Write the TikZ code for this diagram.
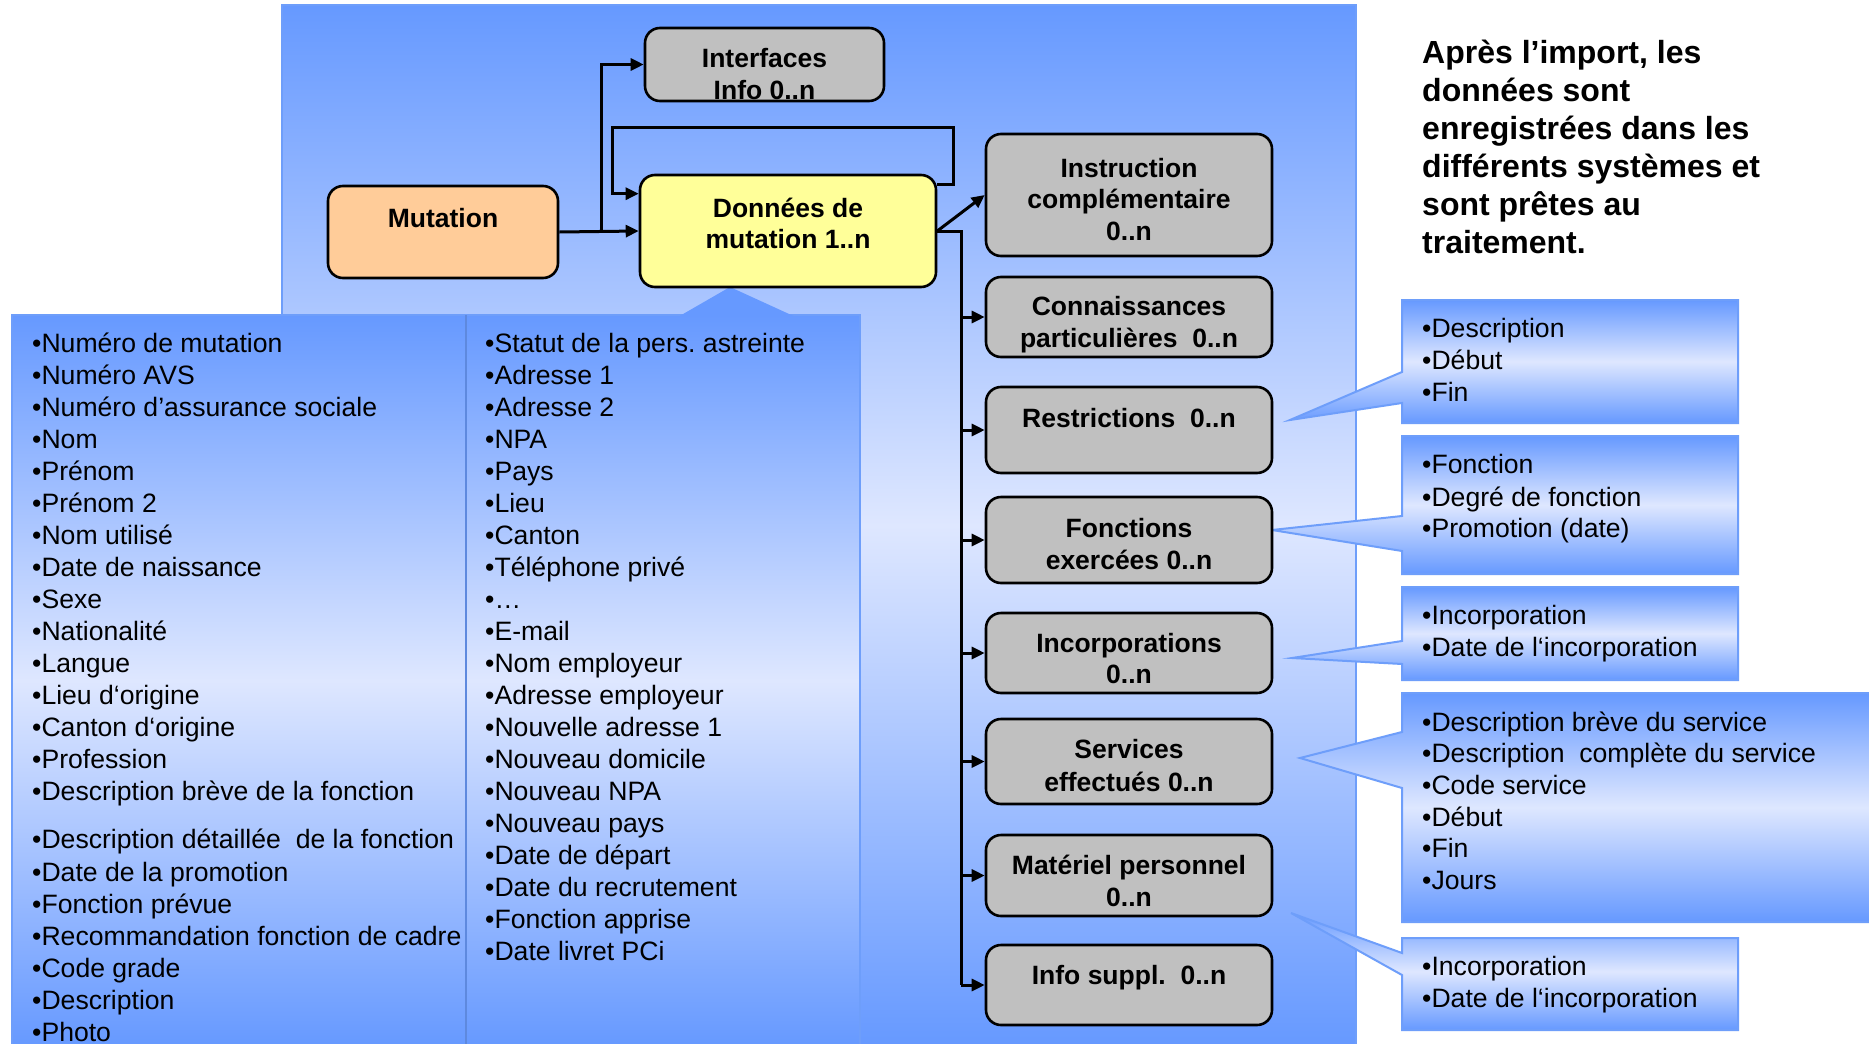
\documentclass[tikz,border=0pt]{standalone}
\usepackage{fontspec}
\setmainfont{Liberation Sans}
\usetikzlibrary{arrows.meta}
\definecolor{pblue}{RGB}{102,153,255}
\definecolor{plight}{RGB}{222,231,255}
\definecolor{pedge}{RGB}{110,158,250}
\definecolor{boxgray}{RGB}{192,192,192}
\definecolor{boxorange}{RGB}{255,204,153}
\definecolor{boxyellow}{RGB}{255,255,153}
\frenchspacing
\begin{document}
\begin{tikzpicture}[x=1pt,y=-1pt,
  box/.style={draw=black, line width=2.6pt, rounded corners=15pt, inner sep=0pt},
  graybox/.style={box, fill=boxgray, minimum width=286pt},
  conn/.style={draw=black, line width=3pt},
  arr/.style={conn, -{Triangle[length=13pt,width=12pt]}},
  bt/.style={font=\fontsize{26.5}{32}\selectfont\bfseries, anchor=base, inner sep=0pt},
  lt/.style={font=\fontsize{26.6}{32}\selectfont, anchor=base west, inner sep=0pt},
  rt/.style={font=\fontsize{32}{38}\selectfont\bfseries, anchor=base west, inner sep=0pt},
  grad/.style={top color=pblue, bottom color=pblue, middle color=plight},
  callout/.style={grad, draw=pedge, line width=2pt}
]
\useasboundingbox (0,0) rectangle (1869,1044);
\fill[white] (0,0) rectangle (1869,1044);
\begin{scope}
\clip (0,0) rectangle (1869,1044);
% background panel
\shade[grad] (282,5) rectangle (1356,1046);
\draw[pedge, line width=2pt] (282,1046) -- (282,5) -- (1356,5) -- (1356,1046);
% list box
\shade[grad] (12,315) rectangle (860,1046);
\draw[pedge, line width=1.5pt] (12,1046) -- (12,315) -- (860,315) -- (860,1046);
\fill[pblue] (680,315.8) -- (730,287) -- (793,315.8) -- cycle;
\draw[pedge!80!black!60!pblue, line width=1.5pt] (466,315) -- (466,1046);
% callouts
\shade[callout] (1402,300) -- (1738,300) -- (1738,423) -- (1402,423) -- (1402,403) -- (1290,420) -- (1402,372) -- cycle;
\shade[callout] (1402,436) -- (1738,436) -- (1738,574) -- (1402,574) -- (1402,551) -- (1272,530) -- (1402,516) -- cycle;
\shade[callout] (1402,587) -- (1738,587) -- (1738,680) -- (1402,680) -- (1402,664) -- (1292,658) -- (1402,641) -- cycle;
\shade[callout] (1402,693) -- (1880,693) -- (1880,922) -- (1402,922) -- (1402,788) -- (1300,758) -- (1402,732) -- cycle;
\shade[callout] (1402,938) -- (1738,938) -- (1738,1030) -- (1402,1030) -- (1402,975) -- (1291,913) -- (1402,953) -- cycle;
\end{scope}
% boxes
\node[box, fill=boxgray, minimum width=239pt, minimum height=73pt] (int) at (764.5,64.5) {};
\node[box, fill=boxorange, minimum width=230pt, minimum height=92pt] (mut) at (443,232) {};
\node[box, fill=boxyellow, minimum width=296pt, minimum height=112pt] (don) at (788,231) {};
\node[graybox, minimum height=122pt] (instr) at (1129,195) {};
\node[graybox, minimum height=80pt] (conn) at (1129,317) {};
\node[graybox, minimum height=86pt] (restr) at (1129,430) {};
\node[graybox, minimum height=86pt] (fonc) at (1129,540) {};
\node[graybox, minimum height=80pt] (incorp) at (1129,653) {};
\node[graybox, minimum height=85pt] (serv) at (1129,761.5) {};
\node[graybox, minimum height=81pt] (mat) at (1129,875.5) {};
\node[graybox, minimum height=80pt] (info) at (1129,985) {};
% connectors
\coordinate (j1) at (601,232);
\coordinate (lp1) at (953,127);
\coordinate (lp2) at (612,127);
\coordinate (bus) at (961,985);
\draw[arr] (mut.east) -- (don.west);
\draw[arr] (j1) |- (int.west);
\draw[arr] ([yshift=-11pt]don.north east) -| (lp1) -- (lp2) |- ([yshift=-20pt]don.north west);
\draw[arr] (don.east) -- (instr.west);
\draw[conn] (don.east) -| (bus);
\draw[arr] (bus) -- (info.west);
\foreach \b in {conn,restr,fonc,incorp,serv,mat}
  \draw[arr] (\b.west -| bus) -- (\b.west);
% box texts
\node[bt] (t-int1) at (764.5,67) {Interfaces};
\node[bt] (t-int2) at (764.5,99) {Info 0..n};
\node[bt] (t-mut) at (443,227) {Mutation};
\node[bt] (t-don1) at (788,217) {Données de};
\node[bt] (t-don2) at (788,248) {mutation 1..n};
\node[bt] (t-ins1) at (1129,177) {Instruction};
\node[bt] (t-ins2) at (1129,208) {complémentaire};
\node[bt] (t-ins3) at (1129,240) {0..n};
\node[bt] (t-con1) at (1129,315) {Connaissances};
\node[bt] (t-con2) at (1129,347) {particulières\ \ 0..n};
\node[bt] (t-res) at (1129,427) {Restrictions\ \ 0..n};
\node[bt] (t-fon1) at (1129,537) {Fonctions};
\node[bt] (t-fon2) at (1129,569) {exercées 0..n};
\node[bt] (t-inc1) at (1129,652) {Incorporations};
\node[bt] (t-inc2) at (1129,683) {0..n};
\node[bt] (t-ser1) at (1129,758) {Services};
\node[bt] (t-ser2) at (1129,791) {effectués 0..n};
\node[bt] (t-mat1) at (1129,874) {Matériel personnel};
\node[bt] (t-mat2) at (1129,906) {0..n};
\node[bt] (t-inf) at (1129,984) {Info suppl.\ \ 0..n};
% left list, column 1
\foreach \t/\y [count=\i] in {•Numéro de mutation/352, •Numéro AVS/384, •Numéro d’assurance sociale/416, •Nom/448, •Prénom/480, •Prénom 2/512, •Nom utilisé/544, •Date de naissance/576, •Sexe/608, •Nationalité/640, •Langue/672, •Lieu d‘origine/704, •Canton d‘origine/736, •Profession/768, •Description brève de la fonction/800, •Description détaillée\ \ de la fonction/848, •Date de la promotion/881, •Fonction prévue/913, •Recommandation fonction de cadre/945, •Code grade/977, •Description/1009, •Photo/1041}
  \node[lt] (la\i) at (32,\y) {\t};
% column 2
\foreach \t [count=\i] in {•Statut de la pers. astreinte, •Adresse 1, •Adresse 2, •NPA, •Pays, •Lieu, •Canton, •Téléphone privé, •…, •E-mail, •Nom employeur, •Adresse employeur, •Nouvelle adresse 1, •Nouveau domicile, •Nouveau NPA, •Nouveau pays, •Date de départ, •Date du recrutement, •Fonction apprise, •Date livret PCi}
  \node[lt] (lb\i) at (485,{352+32.05*(\i-1)}) {\t};
% callout texts
\foreach \t/\y [count=\i] in {•Description/337, •Début/369, •Fin/401, •Fonction/473, •Degré de fonction/506, •Promotion (date)/537, •Incorporation/624, •Date de l‘incorporation/656, •Description brève du service/731, •Description\ \ complète du service/762, •Code service/794, •Début/826, •Fin/857, •Jours/889, •Incorporation/975, •Date de l‘incorporation/1007}
  \node[lt] (c\i) at (1422,\y) {\t};
% right text
\node[rt] (r1) at (1422,63) {Après l’import, les};
\node[rt] (r2) at (1422,101) {données sont};
\node[rt] (r3) at (1422,139) {enregistrées dans les};
\node[rt] (r4) at (1422,177) {différents systèmes et};
\node[rt] (r5) at (1422,215) {sont prêtes au};
\node[rt] (r6) at (1422,253) {traitement.};
\end{tikzpicture}
\end{document}
